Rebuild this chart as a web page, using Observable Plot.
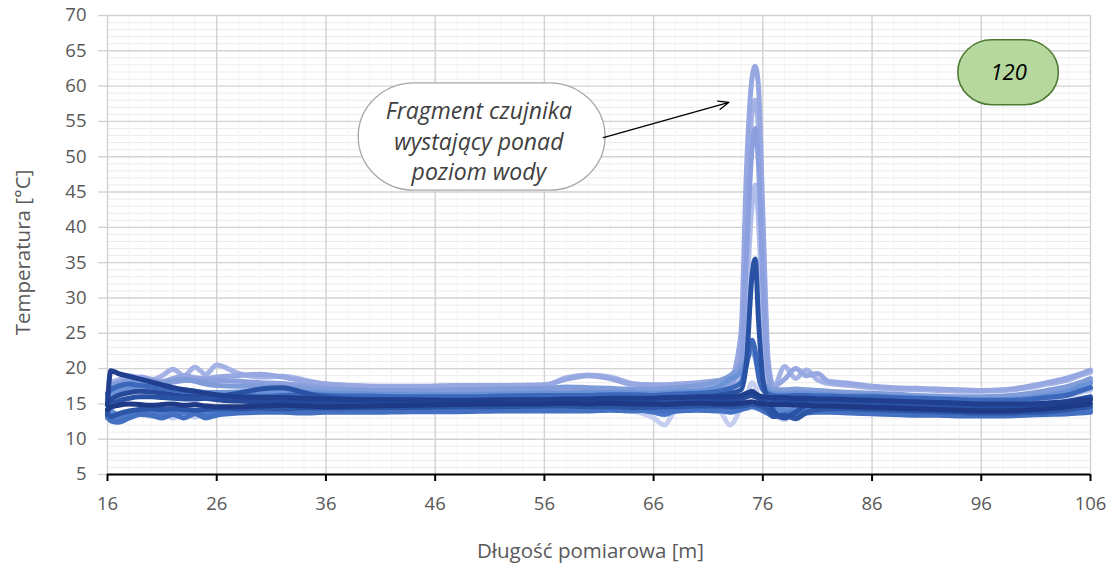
<!DOCTYPE html>
<html>
<head>
<meta charset="utf-8">
<script src="https://cdn.jsdelivr.net/npm/d3@7"></script>
<script src="https://cdn.jsdelivr.net/npm/@observablehq/plot@0.6"></script>
<style>
  body { margin: 0; background: #fff; }
  #chart svg { display: block; }
</style>
</head>
<body>
<div id="chart"></div>
<script>
// Measurement positions along the sensor [m]
const distance = [16, 16.3, 17, 18, 19, 20, 21, 22, 23, 24, 25, 26,
  28, 30, 32, 34, 36, 40, 44, 48, 52, 56,
  58, 60, 62, 64, 66, 67, 68, 70, 72,
  73, 74, 74.5, 75, 75.3, 75.6, 76, 76.5, 77,
  78, 79, 80, 81, 82, 84, 86, 88,
  90, 92, 94, 96, 98, 100, 102, 104, 105, 106];

// Temperature profiles [°C], one array per measurement run
const run01 = [14.2, 14.5, 14.8, 15.0, 14.9, 14.8, 14.9, 15.0, 14.8, 14.9, 14.7, 14.6,
  14.6, 14.7, 14.8, 14.7, 14.6, 14.7, 14.8, 14.9, 15.0, 15.0,
  15.1, 15.0, 15.1, 15.0, 15.0, 14.9, 15.0, 15.1, 15.0,
  15.0, 15.1, 15.2, 15.3, 15.2, 15.1, 15.0, 14.9, 14.9,
  14.9, 14.8, 14.8, 14.7, 14.7, 14.6, 14.5, 14.4,
  14.3, 14.2, 14.1, 14.0, 14.0, 14.1, 14.3, 14.6, 14.8, 15.0];
const run02 = [15.0, 19.7, 19.3, 18.9, 18.5, 18.1, 17.7, 17.3, 17.0, 16.8, 16.5, 16.3,
  16.0, 15.9, 15.9, 15.8, 15.7, 15.6, 15.6, 15.5, 15.6, 15.6,
  15.7, 15.7, 15.8, 15.8, 15.8, 15.9, 15.9, 16.0, 16.0,
  16.0, 16.2, 16.5, 16.8, 16.5, 16.2, 16.0, 15.9, 15.9,
  15.9, 15.8, 15.8, 15.7, 15.7, 15.6, 15.5, 15.4,
  15.3, 15.2, 15.1, 15.0, 15.0, 15.0, 15.1, 15.3, 15.5, 15.6];
const run03 = [14.0, 14.8, 15.4, 15.8, 16.0, 16.0, 15.9, 15.8, 15.7, 15.7, 15.8, 16.0,
  16.5, 17.1, 17.3, 16.6, 15.9, 15.6, 15.5, 15.4, 15.5, 15.6,
  15.6, 15.5, 15.6, 15.6, 15.5, 15.6, 15.8, 15.9, 16.2,
  16.5, 17.0, 21.0, 33.0, 35.5, 27.0, 18.5, 15.5, 14.0,
  13.0, 13.8, 14.8, 15.2, 15.3, 15.3, 15.2, 15.1,
  15.0, 14.9, 14.8, 14.8, 14.8, 14.9, 15.1, 15.4, 15.7, 16.0];
const run04 = [13.5, 13.2, 13.6, 14.0, 14.2, 14.3, 14.2, 14.3, 14.2, 14.1, 14.2, 14.3,
  14.3, 14.4, 14.3, 14.4, 14.4, 14.5, 14.5, 14.6, 14.6, 14.7,
  14.7, 14.6, 14.6, 14.5, 14.5, 14.6, 14.6, 14.7, 14.7,
  14.6, 14.7, 14.8, 15.0, 14.9, 14.8, 14.6, 14.0, 13.2,
  13.4, 12.9, 13.8, 14.2, 14.3, 14.3, 14.2, 14.1,
  14.0, 13.9, 13.8, 13.7, 13.7, 13.8, 13.9, 14.2, 14.4, 14.6];
const run05 = [16.5, 17.0, 17.5, 17.8, 17.6, 17.4, 17.2, 17.0, 16.8, 16.6, 16.4, 16.2,
  16.1, 16.1, 16.2, 16.3, 16.2, 16.1, 16.0, 16.0, 16.1, 16.2,
  16.2, 16.2, 16.3, 16.3, 16.2, 16.3, 16.4, 16.5, 16.8,
  17.2, 18.0, 20.5, 24.0, 22.5, 19.0, 17.0, 16.4, 16.2,
  16.1, 16.2, 16.2, 16.1, 16.1, 16.0, 16.0, 15.9,
  15.8, 15.7, 15.6, 15.5, 15.5, 15.6, 15.9, 16.3, 16.8, 17.3];
const run06 = [13.3, 12.6, 12.4, 13.0, 13.5, 13.4, 13.0, 13.5, 13.0, 13.6, 13.0, 13.4,
  13.7, 13.8, 13.8, 13.7, 13.8, 13.8, 13.9, 13.9, 14.0, 14.0,
  14.0, 14.0, 14.1, 14.0, 14.1, 14.0, 14.0, 14.1, 14.0,
  14.0, 14.2, 14.4, 14.6, 14.5, 14.3, 14.0, 13.6, 13.2,
  13.4, 13.2, 13.7, 13.8, 13.8, 13.7, 13.6, 13.5,
  13.4, 13.4, 13.3, 13.3, 13.3, 13.4, 13.5, 13.6, 13.7, 13.8];
const run07 = [15.0, 16.0, 16.8, 17.2, 17.6, 17.8, 17.6, 17.3, 17.0, 16.8, 16.6, 16.6,
  16.7, 16.8, 16.8, 16.7, 16.5, 16.4, 16.3, 16.3, 16.4, 16.5,
  16.5, 16.6, 16.6, 16.6, 16.5, 16.6, 16.7, 16.8, 17.5,
  18.5, 19.5, 21.0, 22.5, 22.0, 20.5, 18.0, 16.8, 16.5,
  16.4, 16.5, 16.5, 16.4, 16.3, 16.2, 16.2, 16.0,
  15.9, 15.8, 15.7, 15.6, 15.6, 15.8, 16.2, 16.8, 17.4, 17.9];
const run08 = [13.0, 14.0, 13.4, 13.8, 14.0, 13.9, 14.0, 13.8, 14.0, 13.9, 14.1, 14.0,
  14.0, 14.1, 14.2, 14.2, 14.2, 14.3, 14.3, 14.4, 14.4, 14.5,
  14.4, 14.5, 14.4, 14.3, 14.3, 14.3, 14.4, 14.3, 14.2,
  14.2, 14.4, 14.6, 15.0, 14.8, 14.6, 14.4, 14.3, 14.2,
  14.2, 14.1, 14.1, 14.0, 14.0, 13.9, 13.9, 13.8,
  13.7, 13.7, 13.6, 13.5, 13.5, 13.6, 13.7, 13.9, 14.0, 14.1];
const run09 = [16.0, 17.5, 18.0, 18.3, 18.5, 18.2, 18.0, 18.3, 18.5, 18.2, 17.8, 17.6,
  17.5, 17.5, 17.4, 17.2, 17.0, 16.9, 16.9, 17.0, 17.1, 17.2,
  17.4, 17.3, 17.2, 17.1, 17.1, 17.2, 17.3, 17.6, 18.3,
  19.0, 20.5, 21.5, 23.0, 21.5, 19.5, 18.0, 17.3, 17.0,
  17.0, 17.1, 17.0, 16.9, 16.8, 16.6, 16.5, 16.4,
  16.2, 16.1, 16.0, 16.0, 16.1, 16.4, 16.9, 17.5, 18.0, 18.6];
const run10 = [15.5, 16.5, 17.2, 17.8, 18.0, 18.2, 18.0, 18.1, 18.3, 18.4, 18.3, 18.3,
  18.2, 18.0, 17.9, 17.6, 17.3, 16.9, 16.8, 16.8, 16.8, 16.9,
  16.8, 16.8, 16.7, 16.7, 16.6, 16.7, 16.8, 17.0, 17.4,
  17.8, 21.0, 36.0, 51.0, 54.0, 49.0, 32.0, 19.0, 16.6,
  16.5, 16.6, 16.6, 16.5, 16.4, 16.3, 16.3, 16.2,
  16.1, 16.0, 15.9, 15.9, 16.0, 16.2, 16.6, 17.1, 17.6, 18.2];
const run11 = [15.0, 17.0, 17.8, 18.5, 18.8, 18.5, 18.2, 18.6, 19.0, 18.7, 18.6, 18.8,
  19.0, 19.2, 18.8, 18.2, 17.8, 17.5, 17.5, 17.6, 17.6, 17.7,
  18.5, 19.0, 18.6, 17.8, 17.7, 17.7, 17.8, 18.0, 18.3,
  18.5, 25.0, 48.0, 61.0, 62.8, 60.0, 42.0, 21.0, 17.5,
  18.5, 20.0, 19.0, 19.3, 18.2, 17.9, 17.5, 17.3,
  17.2, 17.1, 17.0, 16.9, 17.0, 17.4, 18.0, 18.7, 19.2, 19.8];
const run12 = [16.0, 18.0, 18.4, 19.0, 18.6, 18.4, 19.0, 19.9, 19.0, 20.2, 19.2, 20.5,
  19.3, 18.8, 18.9, 18.4, 17.8, 17.5, 17.4, 17.5, 17.6, 17.6,
  18.7, 19.1, 18.8, 17.9, 17.6, 17.6, 17.7, 17.8, 18.0,
  18.2, 22.0, 42.0, 56.0, 58.0, 54.0, 38.0, 20.0, 17.5,
  20.3, 18.6, 19.8, 18.4, 17.9, 17.6, 17.3, 17.1,
  17.0, 16.9, 16.8, 16.8, 16.9, 17.2, 17.8, 18.4, 19.0, 19.5];
const run13 = [14.0, 15.5, 16.5, 16.8, 17.0, 16.8, 16.6, 16.5, 16.4, 16.4, 16.3, 16.2,
  16.1, 16.0, 15.9, 15.9, 15.9, 16.0, 16.0, 16.1, 16.1, 16.2,
  16.3, 16.3, 16.2, 16.2, 16.1, 16.2, 16.3, 16.5, 16.8,
  17.0, 20.0, 30.0, 43.0, 46.0, 41.0, 27.0, 17.5, 15.8,
  15.8, 15.9, 15.9, 15.8, 15.8, 15.7, 15.6, 15.5,
  15.4, 15.3, 15.2, 15.2, 15.3, 15.5, 15.8, 16.2, 16.6, 17.0];
const run14 = [13.5, 13.0, 12.5, 13.4, 13.8, 13.2, 13.8, 13.0, 13.8, 13.1, 13.7, 13.5,
  13.8, 13.9, 14.0, 14.0, 14.0, 14.1, 14.1, 14.2, 14.2, 14.3,
  14.3, 14.3, 14.2, 14.0, 13.0, 12.0, 14.0, 14.2, 14.0,
  12.0, 14.5, 16.0, 18.0, 17.5, 16.0, 14.8, 14.2, 13.5,
  12.8, 14.0, 14.4, 14.3, 14.2, 14.1, 14.0, 13.9,
  13.8, 13.7, 13.6, 13.6, 13.6, 13.7, 13.9, 14.1, 14.3, 14.5];
const run15 = [14.8, 15.5, 16.2, 16.6, 16.8, 16.7, 16.5, 16.3, 16.1, 16.0, 15.8, 15.6,
  15.4, 15.3, 15.3, 15.2, 15.2, 15.2, 15.2, 15.3, 15.3, 15.3,
  15.4, 15.4, 15.4, 15.3, 15.3, 15.4, 15.4, 15.5, 15.5,
  15.5, 15.7, 16.0, 16.2, 16.0, 15.8, 15.5, 15.4, 15.3,
  15.2, 15.2, 15.2, 15.1, 15.1, 15.0, 14.9, 14.8,
  14.7, 14.6, 14.5, 14.4, 14.4, 14.5, 14.7, 15.0, 15.3, 15.6];
const run16 = [13.8, 13.4, 13.0, 13.6, 14.2, 14.0, 13.6, 14.1, 13.7, 14.0, 13.4, 13.8,
  13.9, 14.0, 14.0, 13.9, 14.0, 14.1, 14.1, 14.2, 14.2, 14.2,
  14.2, 14.2, 14.3, 14.2, 13.8, 13.5, 14.0, 14.2, 14.1,
  13.8, 14.2, 14.5, 14.8, 14.7, 14.5, 14.2, 13.8, 13.4,
  13.6, 13.9, 14.1, 14.1, 14.0, 14.0, 13.9, 13.8,
  13.7, 13.6, 13.5, 13.4, 13.4, 13.5, 13.6, 13.8, 13.9, 14.0];

// Drawing order: lightest runs first, darkest on top
const runNames = ["14", "13", "12", "11", "10", "09", "08", "07", "16", "06", "05", "04", "15", "03", "02", "01"];
const runValues = [run14, run13, run12, run11, run10, run09, run08, run07, run16, run06, run05, run04, run15, run03, run02, run01];
const runColors = ["#c6cff0", "#b1bdea", "#a4b2e6", "#97a7e2", "#8c9fde", "#809dda", "#5f89d2", "#6a92d6",
  "#4c78c9", "#4470c2", "#3c68bc", "#2c55a6", "#27499b", "#2a52a4", "#213f8f", "#1e3a86"];

// Axis ticks and texts
const xTicks = [16, 26, 36, 46, 56, 66, 76, 86, 96, 106];
const yTicks = [5, 10, 15, 20, 25, 30, 35, 40, 45, 50, 55, 60, 65, 70];
const xTitle = "Długość pomiarowa [m]";
const yTitle = "Temperatura [°C]";
const noteText = "Fragment czujnika\nwystający ponad\npoziom wody";
const badgeText = "120";

// Annotation placement in data units
const noteBox = [{x1: 39.0, x2: 61.6, y1: 45.2, y2: 60.4, cx: 50.0, cy: 52.4}];
const noteArrow = [{x1: 61.4, y1: 52.7, x2: 72.9, y2: 57.7}];
const badgeBox = [{x1: 93.9, x2: 103.1, y1: 57.3, y2: 66.5, cx: 98.5, cy: 61.9}];

const rows = runNames.flatMap((name, k) =>
  distance.map((d, i) => ({run: name, x: d, y: runValues[k][i]}))
);

const font = "'Open Sans', 'DejaVu Sans', sans-serif";
const labelColor = "#595959";

const chart = Plot.plot({
  width: 1107,
  height: 564,
  marginLeft: 107,
  marginRight: 17,
  marginTop: 15,
  marginBottom: 90,
  style: {fontFamily: font, background: "white", overflow: "visible"},
  x: {domain: [16, 106]},
  y: {domain: [5, 70]},
  color: {domain: runNames, range: runColors},
  marks: [
    // minor grid
    Plot.ruleY(d3.range(6, 70, 1).filter(v => v % 5 !== 0), {stroke: "#ececec", strokeWidth: 1}),
    Plot.ruleX(d3.range(18, 106, 2).filter(v => (v - 16) % 10 !== 0), {stroke: "#f3f3f3", strokeWidth: 1}),
    // major grid
    Plot.ruleY(yTicks, {stroke: "#d2d2d2", strokeWidth: 1.4}),
    Plot.ruleX(xTicks, {stroke: "#d2d2d2", strokeWidth: 1.4}),
    Plot.axisY(yTicks, {tickSize: 9, tickPadding: 12, stroke: "#d2d2d2", strokeWidth: 1.4,
      fill: labelColor, fontSize: 18.5, label: null}),
    // temperature profiles
    Plot.line(rows, {x: "x", y: "y", z: "run", stroke: "run", strokeWidth: 5,
      curve: "monotone-x", strokeLinejoin: "round"}),
    // x axis line and ticks
    Plot.ruleY([5], {stroke: "black", strokeWidth: 2}),
    Plot.axisX(xTicks, {tickSize: 7, tickPadding: 15, stroke: "black", strokeWidth: 2,
      fill: labelColor, fontSize: 18.5, label: null}),
    // callout
    Plot.rect(noteBox, {x1: "x1", x2: "x2", y1: "y1", y2: "y2", rx: 56, fill: "white",
      stroke: "#a8a8a8", strokeWidth: 1.3}),
    Plot.text(noteBox, {x: "cx", y: "cy", text: () => noteText, fontSize: 23, fontStyle: "italic",
      fill: "#404040", lineHeight: 1.33}),
    Plot.arrow(noteArrow, {x1: "x1", y1: "y1", x2: "x2", y2: "y2", stroke: "black", strokeWidth: 1.3,
      headLength: 13, headAngle: 45}),
    // run number badge
    Plot.rect(badgeBox, {x1: "x1", x2: "x2", y1: "y1", y2: "y2", rx: 34, fill: "#b6d89e",
      stroke: "#4f7a33", strokeWidth: 1.6}),
    Plot.text(badgeBox, {x: "cx", y: "cy", text: () => badgeText, fontSize: 22, fontStyle: "italic",
      fill: "black"})
  ]
});

// Axis titles, placed relative to the plotting frame
const svg = d3.select(chart);
const [fx0, fx1] = chart.scale("x").range;
const [fy0, fy1] = chart.scale("y").range;
svg.append("text")
  .attr("transform", `translate(${fx0 - 85},${(fy0 + fy1) / 2 + 8}) rotate(-90)`)
  .attr("text-anchor", "middle")
  .attr("dominant-baseline", "central")
  .attr("font-family", font)
  .attr("font-size", 20.5)
  .attr("fill", labelColor)
  .text(yTitle);
svg.append("text")
  .attr("x", (fx0 + fx1) / 2 - 8)
  .attr("y", fy0 + 76)
  .attr("text-anchor", "middle")
  .attr("dominant-baseline", "central")
  .attr("font-family", font)
  .attr("font-size", 20.5)
  .attr("fill", labelColor)
  .text(xTitle);

document.getElementById("chart").appendChild(chart);
</script>
</body>
</html>
